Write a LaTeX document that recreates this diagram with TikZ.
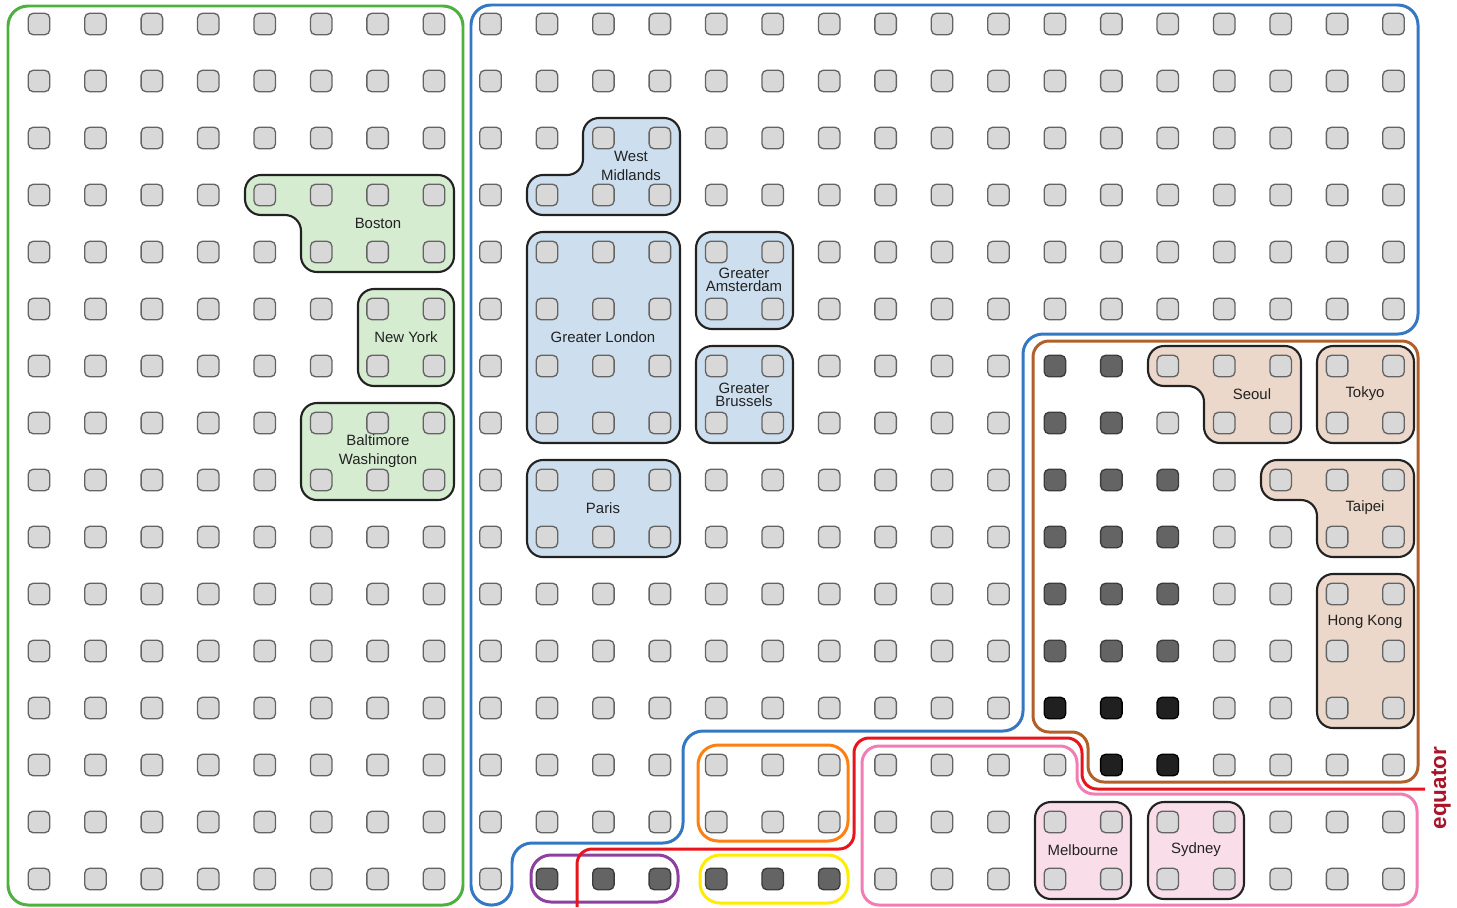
\documentclass[tikz,border=0pt]{standalone}
\usepackage{fontspec}
\setmainfont{Liberation Sans}
\definecolor{sqfill}{RGB}{216,216,216}
\definecolor{sqdraw}{RGB}{100,100,100}
\definecolor{darkfill}{RGB}{100,100,100}
\definecolor{darkdraw}{RGB}{60,60,60}
\definecolor{blackfill}{RGB}{32,32,32}
\definecolor{cgreen}{RGB}{77,178,61}
\definecolor{cblue}{RGB}{52,120,196}
\definecolor{cbrown}{RGB}{176,96,40}
\definecolor{cred}{RGB}{232,20,28}
\definecolor{cpink}{RGB}{244,124,180}
\definecolor{corange}{RGB}{255,128,16}
\definecolor{cyellow}{RGB}{255,236,0}
\definecolor{cpurple}{RGB}{142,64,160}
\definecolor{fgreen}{RGB}{213,236,208}
\definecolor{fblue}{RGB}{205,223,238}
\definecolor{fbrown}{RGB}{236,216,202}
\definecolor{fpink}{RGB}{249,222,234}
\definecolor{eqred}{RGB}{168,20,40}
\definecolor{citydraw}{RGB}{34,34,34}
\begin{document}
\begin{tikzpicture}[x=0.02cm,y=-0.02cm,
  sq/.style={draw=sqdraw,fill=sqfill,line width=0.75pt,rounded corners=0.1cm,minimum size=0.43cm,inner sep=0pt},
  sqdark/.style={sq,draw=darkdraw,fill=darkfill},
  sqblack/.style={sq,draw=black,fill=blackfill},
  city/.style={draw=citydraw,fill=#1,line width=1.2pt,rounded corners=0.32cm},
  region/.style={draw=#1,line width=1.7pt,rounded corners=0.4cm},
  lbl/.style={text=citydraw,font=\fontsize{8.5}{10.6}\selectfont,align=center,inner sep=0pt}]
\useasboundingbox (0,0) rectangle (1457,907);
\fill[white] (0,0) rectangle (1457,907);

% big regions
\draw[region=cgreen] (8,6) rectangle (463,905);
\draw[region=cblue] (471,5) -- (1418,5) -- (1418,334) -- (1023,334) -- (1023,731) -- (683,731) -- (683,843) -- (512,843) -- (512,905) -- (471,905) -- cycle;
\draw[region=cbrown,rounded corners=0.32cm] (1033,341) -- (1418,341) -- (1418,782) -- (1088,782) -- (1088,732) -- (1033,732) -- cycle;
\draw[region=cpink,rounded corners=0.34cm] (862,746) -- (1077,746) -- (1077,794) -- (1417,794) -- (1417,905) -- (862,905) -- cycle;
\draw[region=corange] (698,745) rectangle (848,841);
\draw[region=cyellow] (700,855) rectangle (848,903);
\draw[region=cpurple] (531,855) rectangle (678,902);
\draw[region=cred,rounded corners=0.3cm] (577,907) -- (577,849) -- (854,849) -- (854,738) -- (1082,738) -- (1082,789) -- (1425,789);

% cities
\draw[city=fgreen] (245,175) -- (454,175) -- (454,272) -- (301,272) -- (301,215) -- (245,215) -- cycle;
\draw[city=fgreen] (358,289) rectangle (454,386);
\draw[city=fgreen] (301,403) rectangle (454,500);
\draw[city=fblue] (583,118) -- (680,118) -- (680,215) -- (527,215) -- (527,175) -- (583,175) -- cycle;
\draw[city=fblue] (527,232) rectangle (680,443);
\draw[city=fblue] (696,232) rectangle (793,329);
\draw[city=fblue] (696,346) rectangle (793,443);
\draw[city=fblue] (527,460) rectangle (680,557);
\draw[city=fbrown] (1148,346) -- (1301,346) -- (1301,443) -- (1204,443) -- (1204,386) -- (1148,386) -- cycle;
\draw[city=fbrown] (1317,346) rectangle (1414,443);
\draw[city=fbrown] (1261,460) -- (1414,460) -- (1414,557) -- (1317,557) -- (1317,500) -- (1261,500) -- cycle;
\draw[city=fbrown] (1317,574) rectangle (1414,728);
\draw[city=fpink] (1035,802) rectangle (1131,899);
\draw[city=fpink] (1148,802) rectangle (1244,899);

% squares
\foreach \c in {0,...,24}{
  \foreach \r in {0,...,15}{
    \pgfmathtruncatemacro\dk{(\c>17)*(\c<20)*(\r>5)*(\r<12) + (\c==20)*(\r>7)*(\r<12) + (\r==15)*(\c>8)*(\c<15)}
    \pgfmathtruncatemacro\bk{(\r==12)*(\c>17)*(\c<21) + (\r==13)*(\c>18)*(\c<21)}
    \ifnum\bk>0 \def\st{sqblack}\else\ifnum\dk>0 \def\st{sqdark}\else\def\st{sq}\fi\fi
    \node[\st] (s-\c-\r) at ({39+56.44*\c},{24+57*\r}) {};
  }
}

% labels
\node[lbl] (boston) at (378,223) {Boston};
\node[lbl] (newyork) at (406,337) {New York};
\node[lbl] (baltwash) at (378,451) {Baltimore\\Washington};
\node[lbl] (westmid) at (631,166) {West\\Midlands};
\node[lbl] (london) at (603,337) {Greater London};
\node[lbl] (amsterdam) at (744,280) {Greater\\[-3.4pt]Amsterdam};
\node[lbl] (brussels) at (744,395) {Greater\\[-3.4pt]Brussels};
\node[lbl] (paris) at (603,508) {Paris};
\node[lbl] (seoul) at (1252,394) {Seoul};
\node[lbl] (tokyo) at (1365,394) {Tokyo};
\node[lbl] (taipei) at (1365,508) {Taipei};
\node[lbl] (hongkong) at (1365,622) {Hong Kong};
\node[lbl] (melbourne) at (1083,850) {Melbourne};
\node[lbl] (sydney) at (1196,850) {Sydney};
\node[rotate=90,text=eqred,font=\fontsize{12.8}{15}\selectfont\bfseries,inner sep=0pt] (equator) at (1441,788) {equator};
\end{tikzpicture}
\end{document}
